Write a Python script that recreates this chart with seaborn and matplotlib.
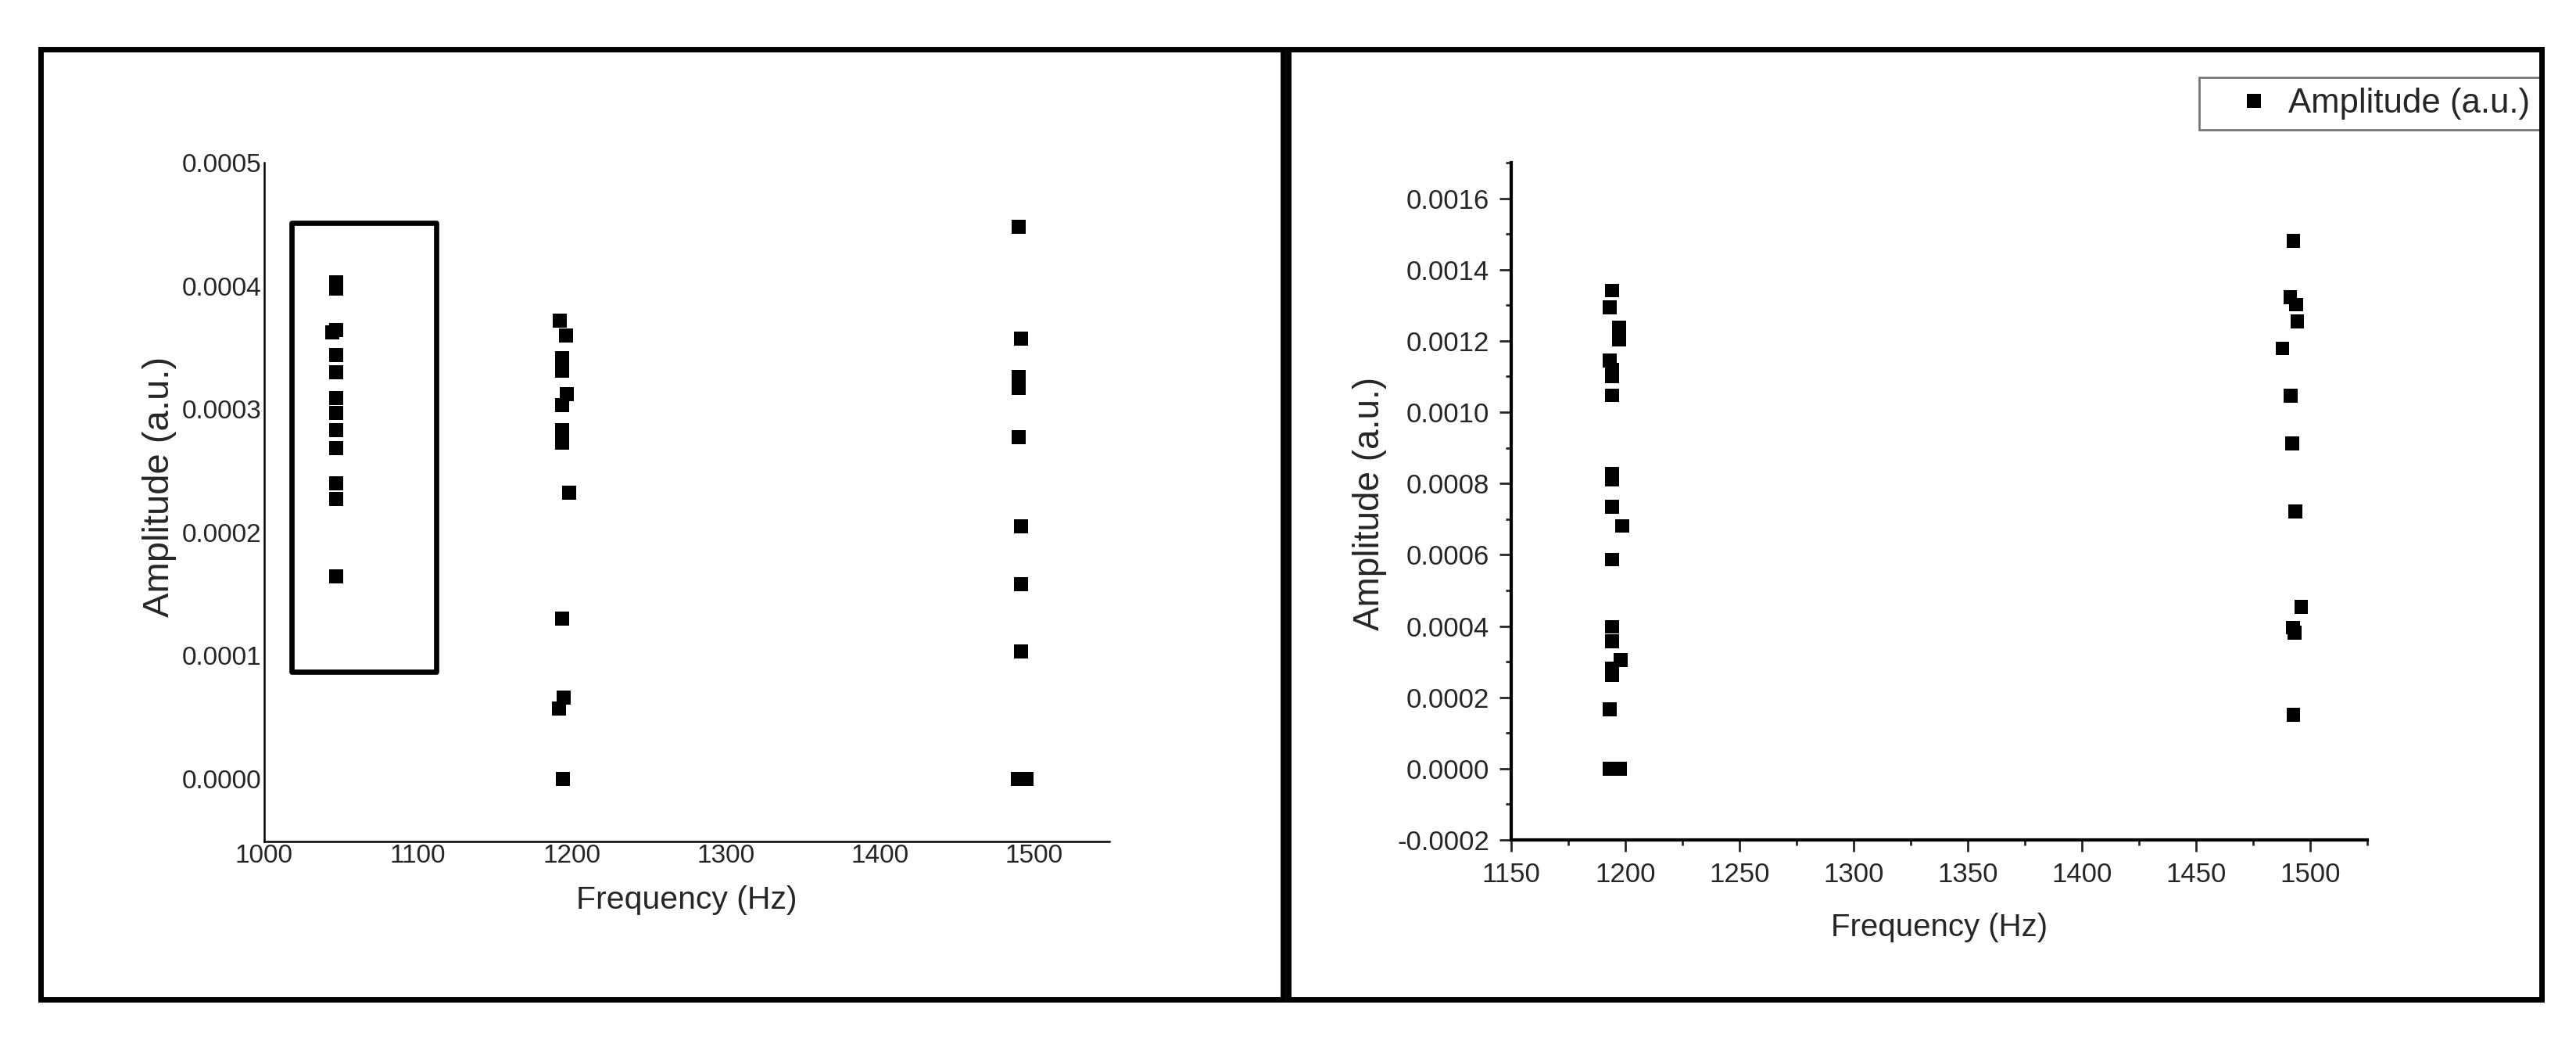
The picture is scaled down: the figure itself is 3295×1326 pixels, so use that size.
import matplotlib
matplotlib.use("Agg")
import matplotlib.pyplot as plt
import matplotlib.ticker as mticker
from matplotlib.patches import Rectangle
import pandas as pd
import seaborn as sns

sns.set_style("white")
plt.rcParams["font.family"] = ["Liberation Sans", "DejaVu Sans"]

# left panel: three frequency clusters
left_freq_1046 = [1047, 1047, 1047, 1044.5, 1047, 1047, 1047, 1047, 1047, 1047, 1047, 1047, 1047]
left_amp_1046 = [0.000403, 0.000398, 0.000364, 0.000362, 0.000344, 0.000330, 0.000309,
                 0.000297, 0.000283, 0.000268, 0.000240, 0.000227, 0.000164]
left_freq_1195 = [1192.1, 1196.2, 1193.7, 1193.7, 1196.7, 1193.7, 1193.7, 1193.7, 1198.0,
                  1193.7, 1194.7, 1191.7, 1194.0]
left_amp_1195 = [0.000372, 0.000360, 0.000341, 0.000331, 0.000312, 0.000303, 0.000283,
                 0.000273, 0.000232, 0.000130, 0.000066, 0.000057, 0.0]
left_freq_1490 = [1490.0, 1491.6, 1490.0, 1490.0, 1490.0, 1491.6, 1491.6, 1491.6, 1489.4, 1495.2]
left_amp_1490 = [0.000448, 0.000357, 0.000326, 0.000317, 0.000277, 0.000205, 0.000158,
                 0.000103, 0.0, 0.0]

# right panel: two clusters
right_freq_1195 = [1194.2, 1193.2, 1197.2, 1197.2, 1193.2, 1194.2, 1194.2, 1194.2, 1194.2,
                   1194.2, 1194.2, 1198.6, 1194.2, 1194.2, 1194.2, 1198.0, 1194.2, 1194.2,
                   1193.2, 1193.0, 1197.8]
right_amp_1195 = [0.001341, 0.001294, 0.001238, 0.001204, 0.001145, 0.001120, 0.001100,
                  0.001047, 0.000828, 0.000810, 0.000735, 0.000681, 0.000587, 0.000398,
                  0.000357, 0.000304, 0.000282, 0.000262, 0.000166, 0.0, 0.0]
right_freq_1492 = [1492.6, 1491.2, 1493.9, 1494.4, 1487.8, 1491.5, 1492.2, 1493.5, 1496.0,
                   1492.4, 1493.2, 1492.6]
right_amp_1492 = [0.001481, 0.001323, 0.001302, 0.001254, 0.001179, 0.001046, 0.000912,
                  0.000722, 0.000454, 0.000396, 0.000381, 0.000151]

left_xticks = [1000, 1100, 1200, 1300, 1400, 1500]
left_yticks = [0.0, 0.0001, 0.0002, 0.0003, 0.0004, 0.0005]
right_xticks = [1150, 1200, 1250, 1300, 1350, 1400, 1450, 1500]
right_yticks = [-0.0002, 0.0, 0.0002, 0.0004, 0.0006, 0.0008, 0.0010, 0.0012, 0.0014, 0.0016]

xlabel = "Frequency (Hz)"
ylabel = "Amplitude (a.u.)"

left_df = pd.DataFrame({
    "freq": left_freq_1046 + left_freq_1195 + left_freq_1490,
    "amp": left_amp_1046 + left_amp_1195 + left_amp_1490,
})
right_df = pd.DataFrame({
    "freq": right_freq_1195 + right_freq_1492,
    "amp": right_amp_1195 + right_amp_1492,
    "series": ylabel,
})

fig = plt.figure(figsize=(32.95, 13.26), dpi=100)
W, H = 3295, 1326

def box(x0, y0, x1, y1):
    return [x0 / W, 1 - y1 / H, (x1 - x0) / W, (y1 - y0) / H]

# panel frames
for x0, x1 in [(52, 1641), (1648, 3251)]:
    fig.patches.append(Rectangle((x0 / W, 1 - 1278 / H), (x1 - x0) / W, (1278 - 63) / H,
                                 transform=fig.transFigure, fill=False, edgecolor="black",
                                 linewidth=5, joinstyle="miter", zorder=0))

# ---- left panel
ax1 = fig.add_axes(box(337.5, 208, 1419, 1076))
sns.scatterplot(data=left_df, x="freq", y="amp", ax=ax1, marker="s", s=185,
                color="black", linewidth=0, legend=False)
ax1.set_xlim(1000, 1549)
ax1.set_ylim(-0.000051, 0.0005)
ax1.set_xticks(left_xticks)
ax1.set_yticks(left_yticks)
ax1.yaxis.set_major_formatter(mticker.FormatStrFormatter("%.4f"))
ax1.tick_params(length=0, labelsize=24, pad=2)
for s in ["top", "right"]:
    ax1.spines[s].set_visible(False)
for s in ["left", "bottom"]:
    ax1.spines[s].set_linewidth(1.8)
    ax1.spines[s].set_color("black")
ax1.set_xlabel(xlabel, fontsize=29.5)
ax1.set_ylabel(ylabel, fontsize=34, va="center")
ax1.xaxis.set_label_coords(0.5, -0.065)
ax1.yaxis.set_label_coords(-0.123, 0.523)
ax1.add_patch(Rectangle((1017.8, 0.0000865), 1111.7 - 1017.8, 0.000451 - 0.0000865,
                        fill=False, edgecolor="black", linewidth=4.8, joinstyle="round"))

# ---- right panel
ax2 = fig.add_axes(box(1933, 208, 3028, 1074))
sns.scatterplot(data=right_df, x="freq", y="amp", hue="series", palette=["black"], ax=ax2,
                marker="s", s=160, linewidth=0)
ax2.set_xlim(1150, 1525)
ax2.set_ylim(-0.0002, 0.0017)
ax2.set_xticks(right_xticks)
ax2.set_yticks(right_yticks)
ax2.xaxis.set_minor_locator(mticker.MultipleLocator(25))
ax2.yaxis.set_minor_locator(mticker.MultipleLocator(0.0001))
ax2.yaxis.set_major_formatter(mticker.FormatStrFormatter("%.4f"))
ax2.tick_params(which="major", direction="out", length=11, width=2, labelsize=25,
                bottom=True, left=True, pad=9)
ax2.tick_params(which="minor", direction="out", length=5, width=2, bottom=True, left=True)
for s in ["top", "right"]:
    ax2.spines[s].set_visible(False)
for s in ["left", "bottom"]:
    ax2.spines[s].set_linewidth(3)
    ax2.spines[s].set_color("black")
ax2.set_xlabel(xlabel, fontsize=29)
ax2.set_ylabel(ylabel, fontsize=33, va="center")
ax2.xaxis.set_label_coords(0.5, -0.107)
ax2.yaxis.set_label_coords(-0.165, 0.497)

ax2.legend(loc="upper right", bbox_to_anchor=(3249 / W, 1 - 99 / H), bbox_transform=fig.transFigure,
           borderaxespad=0, fontsize=31.5, frameon=True, fancybox=False, edgecolor="#777777",
           framealpha=1, borderpad=0.3, handlelength=2.6, handletextpad=-0.3, markerscale=1.0)
ax2.get_legend().get_frame().set_linewidth(2)

fig.savefig("out.png", dpi=100)
